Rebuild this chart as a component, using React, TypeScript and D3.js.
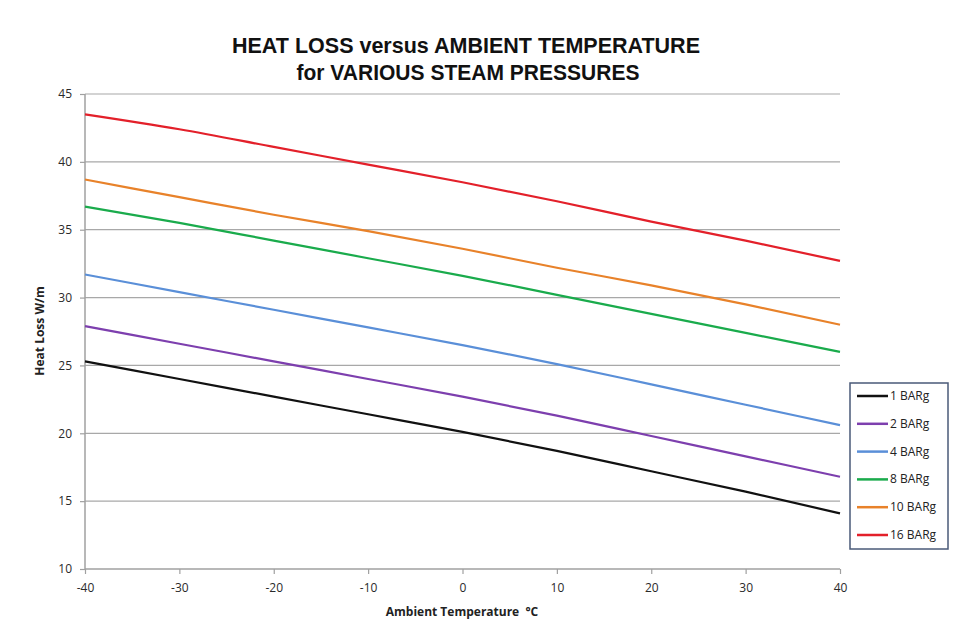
import React, { useEffect, useRef } from 'react';
import { axisBottom, axisLeft, curveMonotoneX, line, scaleLinear, select } from 'd3';

const temps = [-40, -30, -20, -10, 0, 10, 20, 30, 40];
const bar1 = [25.3, 24.0, 22.7, 21.4, 20.1, 18.7, 17.2, 15.7, 14.1];
const bar2 = [27.9, 26.6, 25.3, 24.0, 22.7, 21.3, 19.8, 18.3, 16.8];
const bar4 = [31.7, 30.4, 29.1, 27.8, 26.5, 25.1, 23.6, 22.1, 20.6];
const bar8 = [36.7, 35.5, 34.2, 32.9, 31.6, 30.2, 28.8, 27.4, 26.0];
const bar10 = [38.7, 37.4, 36.1, 34.9, 33.6, 32.2, 30.9, 29.5, 28.0];
const bar16 = [43.5, 42.4, 41.1, 39.8, 38.5, 37.1, 35.6, 34.2, 32.7];
const seriesNames = ['1 BARg', '2 BARg', '4 BARg', '8 BARg', '10 BARg', '16 BARg'];
const seriesColors = ['#111111', '#7d3fae', '#5a8fd8', '#1aab4c', '#e8822a', '#e3202a'];
const xTicks = [-40, -30, -20, -10, 0, 10, 20, 30, 40];
const yTicks = [10, 15, 20, 25, 30, 35, 40, 45];

const W = 969;
const H = 635;
const left = 85;
const right = 840;
const top = 94;
const bottom = 569;

function App() {
    const svgRef = useRef<SVGSVGElement>(null);

    useEffect(() => {
        const svg = select(svgRef.current);
        svg.selectAll('*').remove();

        const x = scaleLinear().domain([-40, 40]).range([left, right]);
        const y = scaleLinear().domain([10, 45]).range([bottom, top]);
        const series = [bar1, bar2, bar4, bar8, bar10, bar16];
        const tickFont = "'Open Sans', 'Liberation Sans', sans-serif";

        svg.append('rect').attr('width', W).attr('height', H).attr('fill', '#ffffff');
        svg.append('rect').attr('x', 0.5).attr('y', 0.5).attr('width', W - 1).attr('height', H - 1)
            .attr('fill', 'none').attr('stroke', '#e2e2e2').attr('stroke-dasharray', '1,1');

        // title, condensed like the original
        const titleFont = "'Liberation Sans Narrow', 'Liberation Sans', Arial, sans-serif";
        svg.append('text')
            .attr('x', 466).attr('y', 53)
            .attr('text-anchor', 'middle')
            .attr('font-family', titleFont).attr('font-weight', 'bold').attr('font-size', 22)
            .attr('fill', '#111')
            .attr('textLength', 468).attr('lengthAdjust', 'spacingAndGlyphs')
            .text('HEAT LOSS versus AMBIENT TEMPERATURE');
        svg.append('text')
            .attr('x', 468).attr('y', 80)
            .attr('text-anchor', 'middle')
            .attr('font-family', titleFont).attr('font-weight', 'bold').attr('font-size', 22)
            .attr('fill', '#111')
            .attr('textLength', 343).attr('lengthAdjust', 'spacingAndGlyphs')
            .text('for VARIOUS STEAM PRESSURES');

        // gridlines
        svg.append('g')
            .selectAll('line')
            .data(yTicks.filter(t => t > 10))
            .join('line')
            .attr('x1', left).attr('x2', right)
            .attr('y1', d => y(d)).attr('y2', d => y(d))
            .attr('stroke', '#a8a8a8').attr('stroke-width', 1.2);

        const yAxis = svg.append('g')
            .attr('transform', `translate(${left},0)`)
            .call(axisLeft(y).tickValues(yTicks).tickSize(5).tickPadding(8).tickFormat(d => `${d}`));
        const xAxis = svg.append('g')
            .attr('transform', `translate(0,${bottom})`)
            .call(axisBottom(x).tickValues(xTicks).tickSize(5).tickPadding(9).tickFormat(d => `${d}`));

        [yAxis, xAxis].forEach(a => {
            a.selectAll('.domain').attr('stroke', '#a0a0a0').attr('stroke-width', 1.5);
            a.selectAll('.tick line').attr('stroke', '#a0a0a0').attr('stroke-width', 1.2);
            a.selectAll('.tick text').attr('fill', '#2a2a2a').attr('font-size', 12).attr('font-family', tickFont);
        });
        yAxis.select('.domain').attr('d', `M${0},${bottom}V${top}`);
        xAxis.select('.domain').attr('d', `M${left},0H${right}`);

        // series lines
        const lineGen = line<number>()
            .x((_, i) => x(temps[i]))
            .y(d => y(d))
            .curve(curveMonotoneX);

        svg.append('g')
            .selectAll('path')
            .data(series)
            .join('path')
            .attr('fill', 'none')
            .attr('stroke', (_, i) => seriesColors[i])
            .attr('stroke-width', 2.2)
            .attr('d', d => lineGen(d));

        // axis titles
        svg.append('text')
            .attr('x', 462).attr('y', 616)
            .attr('text-anchor', 'middle')
            .attr('font-family', tickFont)
            .attr('font-weight', 'bold')
            .attr('font-size', 12)
            .attr('fill', '#222')
            .style('white-space', 'pre')
            .text('Ambient Temperature  °C');
        svg.append('text')
            .attr('transform', `translate(44,331) rotate(-90)`)
            .attr('text-anchor', 'middle')
            .attr('font-family', tickFont)
            .attr('font-weight', 'bold')
            .attr('font-size', 12)
            .attr('fill', '#222')
            .text('Heat Loss W/m');

        // legend
        const lg = svg.append('g').attr('transform', 'translate(850,383)');
        lg.append('rect').attr('width', 98).attr('height', 166)
            .attr('fill', '#fff').attr('stroke', '#4a5a78').attr('stroke-width', 1.5);
        const items = lg.selectAll('g').data(seriesNames).join('g')
            .attr('transform', (_, i) => `translate(0,${13 + i * 27.8})`);
        items.append('line').attr('x1', 7).attr('x2', 38).attr('y1', 0).attr('y2', 0)
            .attr('stroke', (_, i) => seriesColors[i]).attr('stroke-width', 2.5);
        items.append('text').attr('x', 40).attr('y', 4)
            .attr('font-family', tickFont).attr('font-size', 12).attr('fill', '#222')
            .text(d => d);
    }, []);

    return (
        <div style={{ margin: -8 }}>
            <svg ref={svgRef} width={W} height={H} style={{ display: 'block' }}></svg>
        </div>
    );
}

export default App;
